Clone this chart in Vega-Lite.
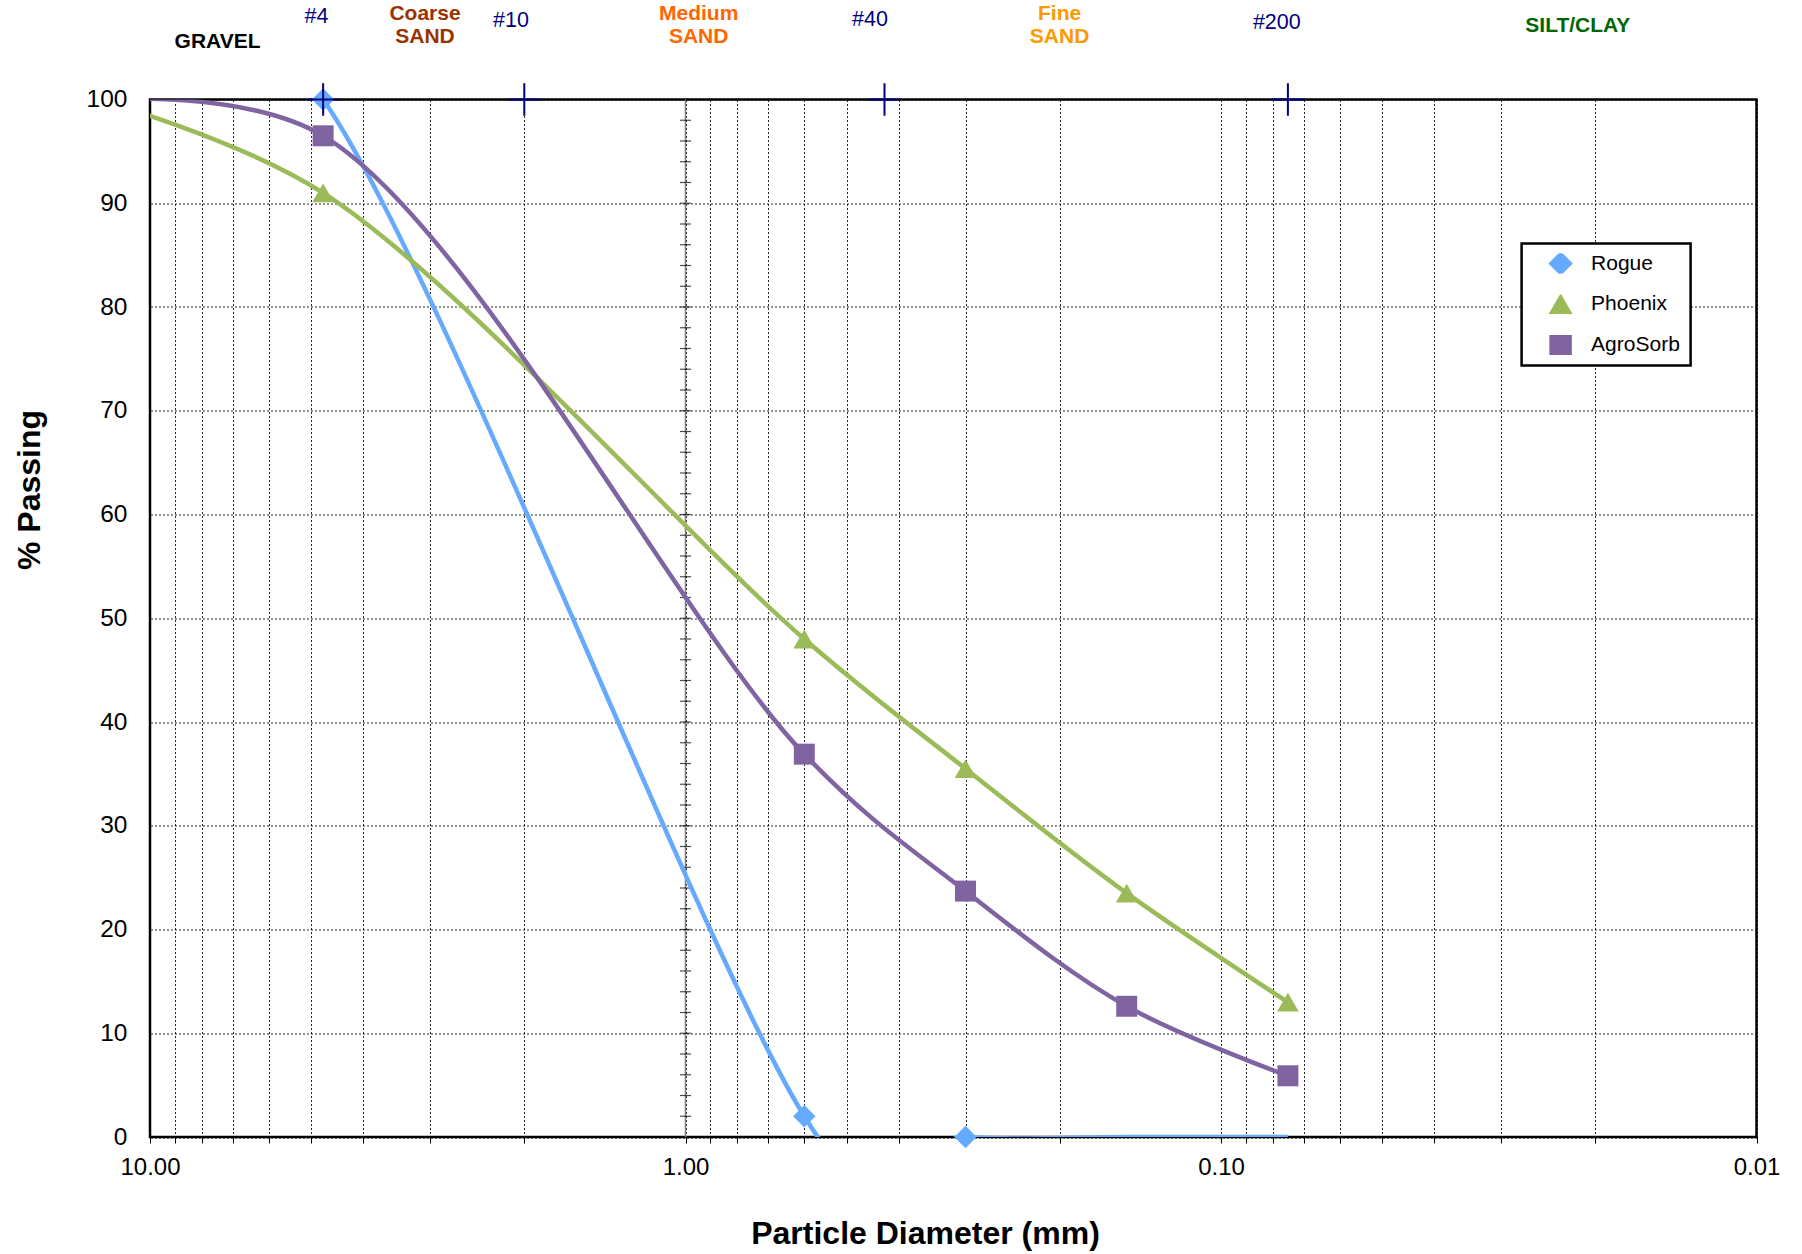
{
  "$schema": "https://vega.github.io/schema/vega-lite/v6.json",
  "width": 1606.5,
  "height": 1037.5,
  "autosize": {"type": "none"},
  "padding": {"left": 150, "top": 99.5, "right": 45.5, "bottom": 117},
  "background": "white",
  "config": {
    "font": "Liberation Sans",
    "view": {"stroke": "#000", "strokeWidth": 2.5},
    "axis": {
      "gridColor": "#000", "gridDash": [2, 2], "gridWidth": 1, "gridOpacity": 0.85,
      "domain": false, "labelColor": "#000", "labelFont": "Liberation Sans",
      "titleFont": "Liberation Sans", "titleColor": "#000"
    },
    "legend": {
      "orient": "none", "legendX": 1371.6, "legendY": 144, "title": null,
      "strokeColor": "#000", "strokeWidth": 2.5, "fillColor": "#fff", "padding": 10,
      "labelFontSize": 21, "labelFont": "Liberation Sans", "labelColor": "#000",
      "labelOffset": 18.5, "symbolOffset": 17, "rowPadding": 19.7, "clipHeight": 20, "symbolSize": 3090
    }
  },
  "datasets": {
    "curves": [
      {"series": "Rogue", "d": 12.5, "pass": 100},
      {"series": "Rogue", "d": 4.75, "pass": 100},
      {"series": "Rogue", "d": 0.6, "pass": 2},
      {"series": "Rogue", "d": 0.3, "pass": 0},
      {"series": "Rogue", "d": 0.15, "pass": 0},
      {"series": "Rogue", "d": 0.075, "pass": 0},
      {"series": "Phoenix", "d": 12.5, "pass": 100},
      {"series": "Phoenix", "d": 4.75, "pass": 91},
      {"series": "Phoenix", "d": 0.6, "pass": 48},
      {"series": "Phoenix", "d": 0.3, "pass": 35.5},
      {"series": "Phoenix", "d": 0.15, "pass": 23.5},
      {"series": "Phoenix", "d": 0.075, "pass": 13},
      {"series": "AgroSorb", "d": 12.5, "pass": 100},
      {"series": "AgroSorb", "d": 4.75, "pass": 96.5},
      {"series": "AgroSorb", "d": 0.6, "pass": 36.9},
      {"series": "AgroSorb", "d": 0.3, "pass": 23.7},
      {"series": "AgroSorb", "d": 0.15, "pass": 12.6},
      {"series": "AgroSorb", "d": 0.075, "pass": 5.9}
    ],
    "sieves": [
      {"sieve": "#4", "d": 4.75, "label_d": 4.887, "label_pass": 107.98},
      {"sieve": "#10", "d": 2.0, "label_d": 2.118, "label_pass": 107.61},
      {"sieve": "#40", "d": 0.425, "label_d": 0.4524, "label_pass": 107.71},
      {"sieve": "#200", "d": 0.075, "label_d": 0.07866, "label_pass": 107.37}
    ],
    "zones": [
      {"zone": "GRAVEL", "d": 7.48, "pass": 105.54},
      {"zone": "Coarse\nSAND", "d": 3.065, "pass": 108.24},
      {"zone": "Medium\nSAND", "d": 0.9449, "pass": 108.24},
      {"zone": "Fine\nSAND", "d": 0.2002, "pass": 108.24},
      {"zone": "SILT/CLAY", "d": 0.02156, "pass": 107.05}
    ],
    "midticks": [
      {"pass": 2}, {"pass": 4}, {"pass": 6}, {"pass": 8}, {"pass": 10},
      {"pass": 12}, {"pass": 14}, {"pass": 16}, {"pass": 18}, {"pass": 20},
      {"pass": 22}, {"pass": 24}, {"pass": 26}, {"pass": 28}, {"pass": 30},
      {"pass": 32}, {"pass": 34}, {"pass": 36}, {"pass": 38}, {"pass": 40},
      {"pass": 42}, {"pass": 44}, {"pass": 46}, {"pass": 48}, {"pass": 50},
      {"pass": 52}, {"pass": 54}, {"pass": 56}, {"pass": 58}, {"pass": 60},
      {"pass": 62}, {"pass": 64}, {"pass": 66}, {"pass": 68}, {"pass": 70},
      {"pass": 72}, {"pass": 74}, {"pass": 76}, {"pass": 78}, {"pass": 80},
      {"pass": 82}, {"pass": 84}, {"pass": 86}, {"pass": 88}, {"pass": 90},
      {"pass": 92}, {"pass": 94}, {"pass": 96}, {"pass": 98}
    ]
  },
  "layer": [
    {
      "data": {"values": [{"d": 1}]},
      "mark": {"type": "rule", "color": "#808080", "strokeWidth": 1.5},
      "encoding": {
        "x": {
          "field": "d", "type": "quantitative",
          "scale": {"type": "log", "domain": [0.01, 10], "reverse": true, "nice": false},
          "axis": {
            "values": [10, 9, 8, 7, 6, 5, 4, 3, 2, 1, 0.9, 0.8, 0.7, 0.6, 0.5, 0.4, 0.3, 0.2, 0.1, 0.09, 0.08, 0.07, 0.06, 0.05, 0.04, 0.03, 0.02, 0.01],
            "labelExpr": "(datum.value == 10 || datum.value == 1 || datum.value == 0.1 || datum.value == 0.01) ? format(datum.value, '.2f') : ''",
            "labelOverlap": false, "labelBound": false, "labelFlush": false,
            "labelFontSize": 24, "labelPadding": 12,
            "ticks": true, "tickSize": 6, "tickColor": "#000", "tickWidth": 1,
            "grid": true,
            "title": "Particle Diameter (mm)", "titleFontSize": 32, "titleFontWeight": "bold",
            "titleX": 775, "titleY": 106, "titleBaseline": "alphabetic", "titleAlign": "center"
          }
        }
      }
    },
    {
      "data": {"name": "midticks"},
      "mark": {"type": "tick", "orient": "horizontal", "size": 11, "thickness": 1.2, "color": "#000"},
      "encoding": {
        "x": {"datum": 1, "type": "quantitative", "scale": {"type": "log", "domain": [0.01, 10], "reverse": true, "nice": false}},
        "y": {"field": "pass", "type": "quantitative", "scale": {"domain": [0, 100], "nice": false, "zero": false}}
      }
    },
    {
      "data": {"name": "curves"},
      "transform": [{"filter": "datum.series == 'Rogue'"}],
      "mark": {"type": "line", "interpolate": "cardinal", "tension": 0, "strokeWidth": 4.5, "clip": true},
      "encoding": {
        "x": {"field": "d", "type": "quantitative", "scale": {"type": "log", "domain": [0.01, 10], "reverse": true, "nice": false}},
        "y": {
          "field": "pass", "type": "quantitative",
          "scale": {"domain": [0, 100], "nice": false, "zero": false},
          "axis": {
            "values": [0, 10, 20, 30, 40, 50, 60, 70, 80, 90, 100],
            "grid": true, "ticks": false, "tickSize": 0, "labelPadding": 23, "labelFontSize": 24.5,
            "title": "% Passing", "titleFontSize": 32, "titleFontWeight": "bold",
            "titleAngle": 270, "titleX": -110.5, "titleY": 390, "titleBaseline": "alphabetic", "titleAlign": "center"
          }
        },
        "color": {
          "field": "series", "type": "nominal",
          "scale": {"domain": ["Rogue", "Phoenix", "AgroSorb"], "range": ["#66AAFF", "#9BBB59", "#8064A2"]}
        }
      }
    },
    {
      "data": {"name": "curves"},
      "transform": [{"filter": "datum.series != 'Rogue'"}],
      "mark": {"type": "line", "interpolate": "catmull-rom", "strokeWidth": 4.5, "clip": true},
      "encoding": {
        "x": {"field": "d", "type": "quantitative", "scale": {"type": "log", "domain": [0.01, 10], "reverse": true, "nice": false}},
        "y": {"field": "pass", "type": "quantitative", "scale": {"domain": [0, 100], "nice": false, "zero": false}},
        "color": {
          "field": "series", "type": "nominal",
          "scale": {"domain": ["Rogue", "Phoenix", "AgroSorb"], "range": ["#66AAFF", "#9BBB59", "#8064A2"]}
        }
      }
    },
    {
      "data": {"name": "curves"},
      "transform": [{"filter": "datum.d <= 10 && (datum.series != 'Rogue' || datum.d >= 0.3)"}],
      "mark": {"type": "point", "filled": true, "opacity": 1, "strokeWidth": 0},
      "encoding": {
        "x": {"field": "d", "type": "quantitative", "scale": {"type": "log", "domain": [0.01, 10], "reverse": true, "nice": false}},
        "y": {"field": "pass", "type": "quantitative", "scale": {"domain": [0, 100], "nice": false, "zero": false}},
        "color": {
          "field": "series", "type": "nominal",
          "scale": {"domain": ["Rogue", "Phoenix", "AgroSorb"], "range": ["#66AAFF", "#9BBB59", "#8064A2"]},
          "legend": {
            "encode": {
              "symbols": {
                "shape": {"value": {"expr": "datum.value === 'Rogue' ? 'M-1,-0.1H1V0.1H-1Z M0,-0.22L0.16,0L0,0.22L-0.16,0Z' : datum.value === 'Phoenix' ? 'M-1,-0.1H1V0.1H-1Z M0,-0.24L0.21,0.16L-0.21,0.16Z' : 'M-1,-0.1H1V0.1H-1Z M-0.21,-0.21H0.21V0.21H-0.21Z'"}},
                "size": {"value": 3090}
              }
            }
          }
        },
        "shape": {
          "field": "series", "type": "nominal",
          "scale": {"domain": ["Rogue", "Phoenix", "AgroSorb"], "range": ["diamond", "triangle-up", "square"]},
          "legend": null
        },
        "size": {
          "field": "series", "type": "nominal",
          "scale": {"domain": ["Rogue", "Phoenix", "AgroSorb"], "range": [500, 440, 350]},
          "legend": null
        }
      }
    },
    {
      "data": {"name": "sieves"},
      "mark": {"type": "point", "shape": "M-1,0H1M0,-1.05V1.05", "size": 961, "filled": false, "stroke": "#000080", "strokeWidth": 2, "opacity": 1},
      "encoding": {
        "x": {"field": "d", "type": "quantitative", "scale": {"type": "log", "domain": [0.01, 10], "reverse": true, "nice": false}},
        "y": {"datum": 100, "type": "quantitative", "scale": {"domain": [0, 100], "nice": false, "zero": false}}
      }
    },
    {
      "data": {"name": "sieves"},
      "mark": {"type": "text", "fontSize": 21.5, "color": "#000080", "align": "center", "baseline": "middle"},
      "encoding": {
        "x": {"field": "label_d", "type": "quantitative", "scale": {"type": "log", "domain": [0.01, 10], "reverse": true, "nice": false}},
        "y": {"field": "label_pass", "type": "quantitative", "scale": {"domain": [0, 100], "nice": false, "zero": false}},
        "text": {"field": "sieve", "type": "nominal"}
      }
    },
    {
      "data": {"name": "zones"},
      "mark": {"type": "text", "fontSize": 21, "fontWeight": "bold", "align": "center", "baseline": "middle", "lineBreak": "\n", "lineHeight": 23},
      "encoding": {
        "x": {"field": "d", "type": "quantitative", "scale": {"type": "log", "domain": [0.01, 10], "reverse": true, "nice": false}},
        "y": {"field": "pass", "type": "quantitative", "scale": {"domain": [0, 100], "nice": false, "zero": false}},
        "text": {"field": "zone", "type": "nominal"},
        "fill": {
          "field": "zone", "type": "nominal",
          "scale": {"domain": ["GRAVEL", "Coarse\nSAND", "Medium\nSAND", "Fine\nSAND", "SILT/CLAY"], "range": ["#000000", "#993300", "#FF6600", "#FF9900", "#006600"]},
          "legend": null
        }
      }
    }
  ]
}
